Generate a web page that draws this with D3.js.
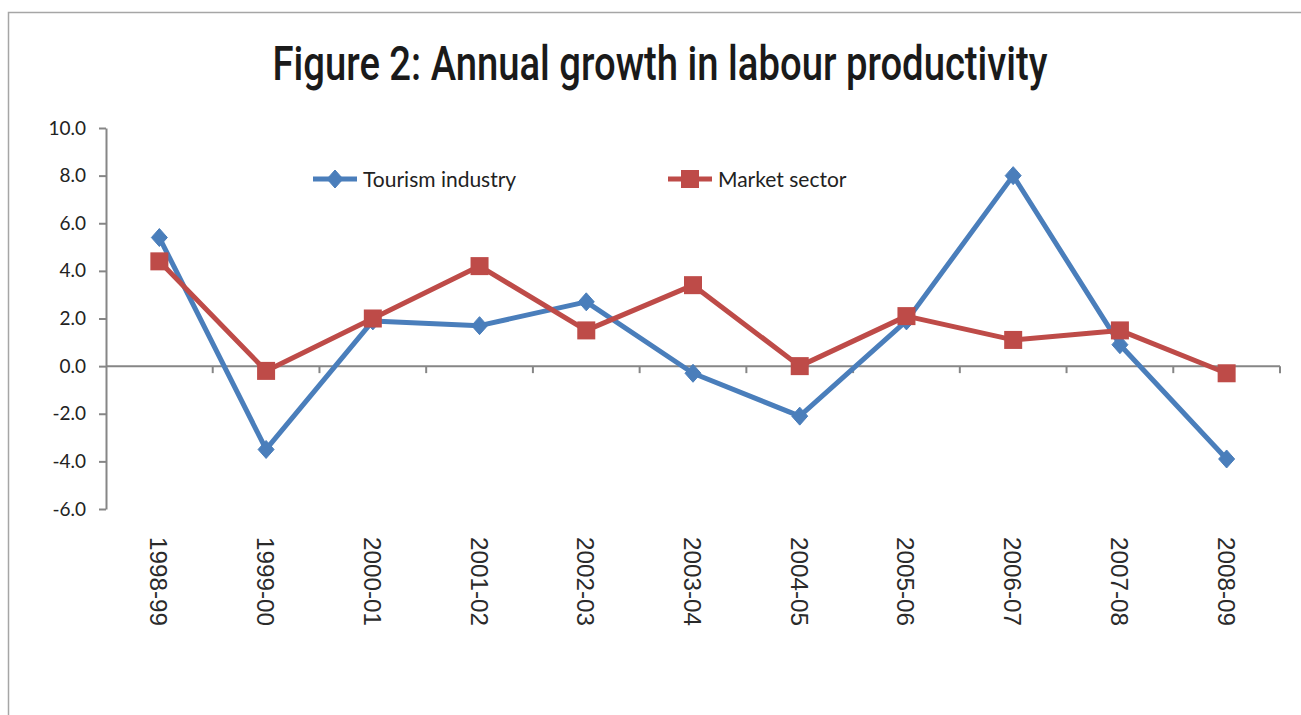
<!DOCTYPE html>
<html>
<head>
<meta charset="utf-8">
<script src="https://cdn.jsdelivr.net/npm/d3@7"></script>
<style>
  html, body { margin: 0; padding: 0; background: #fff; }
  svg { display: block; }
</style>
</head>
<body>
<svg id="chart" width="1301" height="715"></svg>
<script>
// Financial years on the category axis
const years = ["1998-99", "1999-00", "2000-01", "2001-02", "2002-03", "2003-04",
               "2004-05", "2005-06", "2006-07", "2007-08", "2008-09"];
// Annual growth in labour productivity (%)
const tourismIndustry = [5.4, -3.5, 1.9, 1.7, 2.7, -0.3, -2.1, 1.9, 8.0, 0.9, -3.9];
const marketSector    = [4.4, -0.2, 2.0, 4.2, 1.5, 3.4, 0.0, 2.1, 1.1, 1.5, -0.3];
// Value axis ticks
const yTicks = [10, 8, 6, 4, 2, 0, -2, -4, -6];

const seriesList = [
  { name: "Tourism industry", values: tourismIndustry, color: "#4a7ebb", marker: "diamond" },
  { name: "Market sector",    values: marketSector,    color: "#be4b48", marker: "square" }
];

const svg = d3.select("#chart");
const axisColor = "#868686";
const labelFont = "Lato, 'Open Sans', sans-serif";

// Outer frame of the chart area
svg.append("path")
  .attr("d", "M8.5,715 L8.5,12.5 L1301,12.5")
  .attr("fill", "none")
  .attr("stroke", "#a6a6a6")
  .attr("stroke-width", 1.5);

// Title, set in a narrow face
svg.append("text")
  .attr("x", 660).attr("y", 80)
  .attr("text-anchor", "middle")
  .attr("font-family", "Roboto, 'Liberation Sans', sans-serif")
  .attr("font-weight", 500)
  .attr("font-size", 48)
  .attr("textLength", 775)
  .attr("lengthAdjust", "spacingAndGlyphs")
  .attr("fill", "#1a1a1a")
  .text("Figure 2: Annual growth in labour productivity");

const plotLeft = 106, plotRight = 1280;
const x = d3.scaleBand().domain(years).range([plotLeft, plotRight]);
const y = d3.scaleLinear().domain([-6, 10]).range([509, 128]);

// Y axis
const yAxis = svg.append("g")
  .attr("transform", `translate(${plotLeft},0)`)
  .call(d3.axisLeft(y).tickValues(yTicks).tickSize(7).tickSizeOuter(0)
        .tickFormat(d3.format(".1f")));
yAxis.select(".domain").attr("stroke", axisColor).attr("stroke-width", 2);
yAxis.selectAll(".tick line").attr("stroke", axisColor).attr("stroke-width", 2);
yAxis.selectAll(".tick text")
  .attr("x", -20)
  .attr("fill", "#222")
  .attr("font-family", labelFont)
  .attr("font-size", 19)
  .text(d => d3.format(".1f")(d).replace("−", "-"));

// X axis along zero, with boundary ticks between categories
const xAxisG = svg.append("g").attr("transform", `translate(0,${y(0)})`);
xAxisG.append("line")
  .attr("x1", plotLeft).attr("x2", plotRight)
  .attr("stroke", axisColor).attr("stroke-width", 2);
const boundaries = years.map(d => x(d)).slice(1).concat([plotRight]);
xAxisG.selectAll("line.tick").data(boundaries).join("line")
  .attr("class", "tick")
  .attr("x1", d => d).attr("x2", d => d)
  .attr("y1", 0).attr("y2", 7)
  .attr("stroke", axisColor).attr("stroke-width", 2);

// Category labels below the plot, rotated to read downward
svg.append("g").selectAll("text").data(years).join("text")
  .attr("transform", d => `translate(${x(d) + x.bandwidth() / 2 - 9},537) rotate(90)`)
  .attr("font-family", "'Liberation Sans', Arial, sans-serif")
  .attr("font-size", 23)
  .attr("textLength", 89)
  .attr("lengthAdjust", "spacingAndGlyphs")
  .attr("fill", "#2a2a2a")
  .text(d => d);

const cx = d => x(d) + x.bandwidth() / 2;

function drawMarker(sel, type, color) {
  if (type === "diamond") {
    sel.append("path")
      .attr("d", "M0,-9 L8,0 L0,9 L-8,0 Z")
      .attr("fill", color).attr("stroke", color).attr("stroke-width", 1);
  } else {
    sel.append("rect")
      .attr("x", -9).attr("y", -9).attr("width", 18).attr("height", 18)
      .attr("fill", color);
  }
}

const line = d3.line().x((d, i) => cx(years[i])).y(d => y(d));

seriesList.forEach(s => {
  svg.append("path")
    .datum(s.values)
    .attr("d", line)
    .attr("fill", "none")
    .attr("stroke", s.color)
    .attr("stroke-width", 5)
    .attr("stroke-linejoin", "round");
});
seriesList.forEach(s => {
  svg.append("g").selectAll("g").data(s.values).join("g")
    .attr("transform", (d, i) => `translate(${cx(years[i])},${y(d)})`)
    .each(function () { drawMarker(d3.select(this), s.marker, s.color); });
});

// Legend
const legendPos = [{ x: 313, y: 179 }, { x: 668, y: 179 }];
seriesList.forEach((s, i) => {
  const g = svg.append("g").attr("transform", `translate(${legendPos[i].x},${legendPos[i].y})`);
  g.append("line").attr("x1", 0).attr("x2", 44).attr("y1", 0).attr("y2", 0)
    .attr("stroke", s.color).attr("stroke-width", 5);
  const m = g.append("g").attr("transform", "translate(22,0)");
  drawMarker(m, s.marker, s.color);
  g.append("text")
    .attr("x", 50).attr("y", 8)
    .attr("font-family", labelFont)
    .attr("font-size", 21)
    .attr("fill", "#222")
    .text(s.name);
});
</script>
</body>
</html>
